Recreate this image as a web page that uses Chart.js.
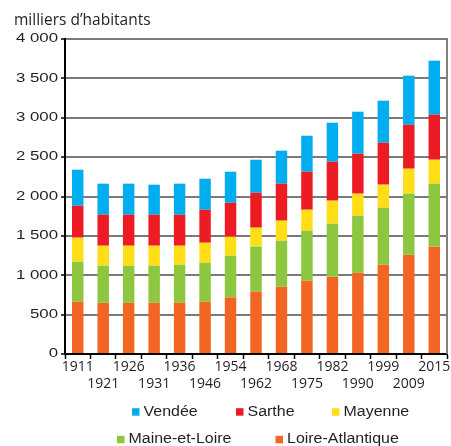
<!DOCTYPE html>
<html>
<head>
<meta charset="utf-8">
<script src="https://cdn.jsdelivr.net/npm/chart.js@4/dist/chart.umd.min.js"></script>
<style>
html,body{margin:0;padding:0;background:#fff;}
#wrap{width:451px;height:446px;position:relative;}
</style>
</head>
<body>
<div id="wrap"><canvas id="c"></canvas></div>
<script>
// ---- data (milliers d'habitants) ----
const categories = ['1911','1921','1926','1931','1936','1946','1954','1962','1968','1975','1982','1990','1999','2009','2015'];
const loireAtlantique = [664, 651, 651, 651, 651, 664, 719, 791, 855, 931, 982, 1032, 1134, 1261, 1363];
const maineEtLoire    = [508, 470, 470, 470, 483, 495, 529, 572, 584, 635, 673, 724, 724, 775, 800];
const mayenne         = [305, 254, 254, 254, 241, 254, 241, 241, 254, 266, 292, 280, 292, 317, 304];
const sarthe          = [406, 394, 394, 394, 394, 419, 432, 444, 470, 483, 495, 508, 533, 558, 572];
const vendee          = [457, 394, 394, 381, 394, 394, 394, 419, 419, 457, 495, 533, 534, 623, 686];
const seriesNames = ['Loire-Atlantique','Maine-et-Loire','Mayenne','Sarthe','Vendée'];
const yTickLabels = ['0','500','1 000','1 500','2 000','2 500','3 000','3 500','4 000'];
const titleText = 'milliers d\u2019habitants';

// ---- styles ----
const seriesColors = ['#F26522','#8DC63F','#FFDE17','#ED1C24','#00AEEF'];
const seriesData = [loireAtlantique, maineEtLoire, mayenne, sarthe, vendee];

const legendLayout = [
  {i:4, dx:67,   row:0},
  {i:3, dx:171,  row:0},
  {i:2, dx:267,  row:0},
  {i:1, dx:52,   row:1},
  {i:0, dx:210.5,row:1}
];

const frame = {
  id:'frame',
  beforeDatasetsDraw(chart){
    const {ctx, chartArea:a} = chart;
    ctx.save();
    ctx.strokeStyle = '#808080';
    ctx.lineWidth = 2;
    ctx.beginPath();
    ctx.moveTo(a.right, a.top - 1);
    ctx.lineTo(a.right, a.bottom);
    ctx.stroke();
    ctx.restore();
  }
};

// widen the y tick labels horizontally around their right edge
const wideY = {
  id:'wideY',
  beforeDraw(chart){
    const s = chart.scales.y;
    if (s && !s.__wide){
      const orig = s.drawLabels;
      s.drawLabels = function(area){
        const c = this.ctx;
        const ax = this.right - 4 - 3;
        c.save();
        c.translate(ax, 0);
        c.scale(1.4, 1);
        c.translate(-ax, 0);
        orig.call(this, area);
        c.restore();
      };
      s.__wide = true;
    }
  }
};

const customLegend = {
  id:'customLegend',
  afterDraw(chart){
    const {ctx, chartArea:a} = chart;
    ctx.save();
    ctx.font = '14px "Liberation Sans", Arial, sans-serif';
    ctx.textBaseline = 'alphabetic';
    ctx.textAlign = 'left';
    legendLayout.forEach(it => {
      const ds = chart.data.datasets[it.i];
      const x = a.left + it.dx;
      const base = a.bottom + 61.7 + it.row * 27.6;
      ctx.fillStyle = ds.backgroundColor;
      ctx.fillRect(x, base - 7.5, 7.5, 7.5);
      ctx.fillStyle = '#231f20';
      const tx = x + 11.5;
      ctx.save();
      ctx.translate(tx, base);
      ctx.scale(1.14, 1);
      ctx.fillText(ds.label, 0, 0);
      ctx.restore();
    });
    ctx.restore();
  }
};

new Chart(document.getElementById('c'), {
  type:'bar',
  data:{
    labels: categories,
    datasets: seriesNames.map((n, k) => ({
      label: n,
      data: seriesData[k],
      backgroundColor: seriesColors[k],
      borderWidth: 0,
      barPercentage: 0.45,
      categoryPercentage: 1.0
    }))
  },
  options:{
    responsive:true,
    maintainAspectRatio:false,
    animation:false,
    devicePixelRatio:1,
    layout:{padding:{left:14, right:4, top:0, bottom:52}},
    plugins:{
      legend:{display:false},
      tooltip:{enabled:false},
      title:{
        display:true, text:titleText, align:'start', color:'#231f20',
        font:{family:'"Open Sans"', size:15.5, weight:'normal', lineHeight:1.2},
        padding:{top:11, bottom:9.4}
      }
    },
    scales:{
      x:{
        stacked:true,
        grid:{offset:true, drawOnChartArea:false, drawTicks:true, tickLength:5, tickColor:'#000', tickWidth:1.5},
        border:{color:'#000', width:2},
        ticks:{
          autoSkip:false, maxRotation:0, minRotation:0, padding:0, color:'#231f20',
          font:{family:'"Open Sans"', size:14, lineHeight:1.2},
          callback:(v, i) => (i % 2 ? ['', categories[i]] : [categories[i]])
        },
        afterFit: s => { s.height = 40; }
      },
      y:{
        stacked:true, min:0, max:4000,
        ticks:{
          stepSize:500, padding:3, color:'#231f20',
          font:{family:'"Liberation Sans"', size:12},
          callback:(v, i) => yTickLabels[i]
        },
        grid:{
          color:'#7a7a7a',
          lineWidth:2, tickLength:4, tickColor:'#000', tickWidth:1.5
        },
        border:{color:'#000', width:2},
        afterFit: s => { s.width = 51; }
      }
    }
  },
  plugins:[frame, wideY, customLegend]
});
</script>
</body>
</html>
